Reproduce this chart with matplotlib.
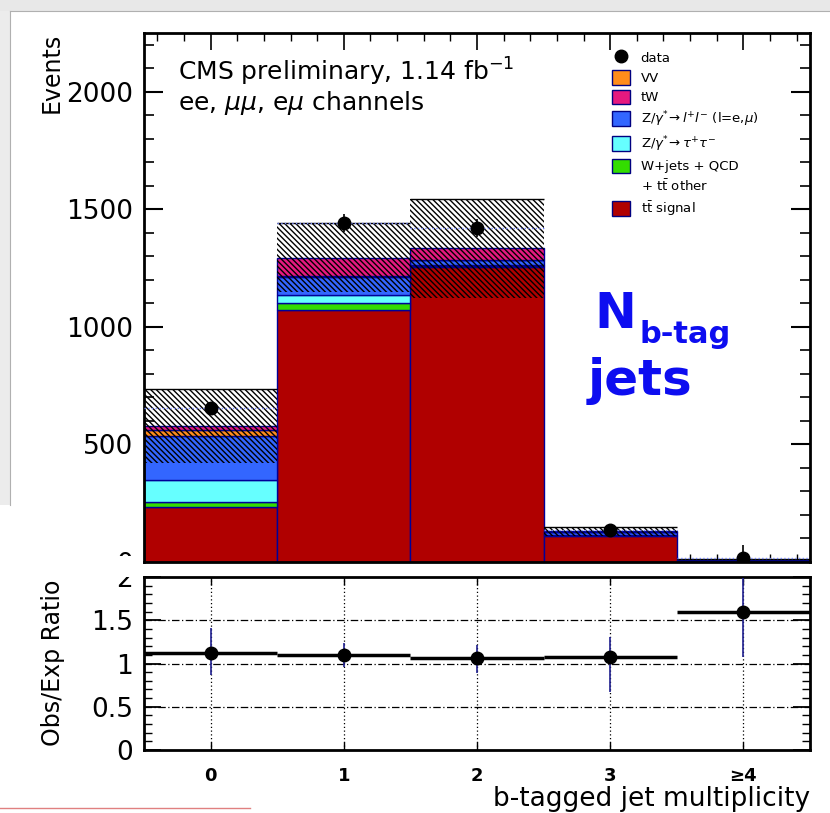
import numpy as np
import matplotlib
matplotlib.use('Agg')
import matplotlib.pyplot as plt
from matplotlib.patches import Patch, Rectangle
from matplotlib.lines import Line2D
from matplotlib.ticker import MultipleLocator, FixedLocator

plt.rcParams['font.family'] = ['DejaVu Sans']
plt.rcParams['hatch.linewidth'] = 1.0

# ---------------- data ----------------
categories = ['0', '1', '2', '3', '\u22654']
signal  = [234, 1072, 1255, 112, 5]
wjets   = [20, 30, 5, 2, 0.5]
ztautau = [94, 34, 3, 2, 0.3]
zll     = [187, 77, 20, 10, 2.5]
vv      = [26, 3, 2, 1, 0.3]
tw      = [17, 78, 50, 3, 0.8]
mc_unc  = [157, 147, 210, 20, 3]
data    = [655, 1443, 1421, 136, 15]
ratio        = [1.125, 1.10, 1.067, 1.075, 1.59]
ratio_err_lo = [0.26, 0.14, 0.18, 0.40, 0.51]
ratio_err_hi = [0.29, 0.14, 0.15, 0.23, 0.40]

# stacking order (bottom to top)
components = [
    ('sig',  signal,  '#b00000', r'$\mathrm{t\bar{t}}$ signal'),
    ('wj',   wjets,   '#33dd00', 'W+jets + QCD'),
    ('ztt',  ztautau, '#66ffff', r'Z/$\gamma^{*}\!\rightarrow\tau^{+}\tau^{-}$'),
    ('zll',  zll,     '#3366ff', r'Z/$\gamma^{*}\!\rightarrow l^{+}l^{-}$ (l=e,$\mu$)'),
    ('vv',   vv,      '#ff8c1a', 'VV'),
    ('tw',   tw,      '#e6197f', 'tW'),
]
legend_order = ['vv', 'tw', 'zll', 'ztt', 'wj', 'sig']

W, H = 830, 813
fig = plt.figure(figsize=(W / 100, H / 100), dpi=100, facecolor='white')

def fx(x):
    return x / W

def fy(y):
    return 1 - y / H

# background framing (screenshot look)
fig.patches.append(Rectangle((0, fy(11)), 1, 11 / H, transform=fig.transFigure,
                             facecolor='#e8e8e8', edgecolor='none', zorder=-5))
fig.patches.append(Rectangle((0, fy(505)), 10 / W, 494 / H, transform=fig.transFigure,
                             facecolor='#ececec', edgecolor='none', zorder=-5))
fig.lines.append(Line2D([fx(10), fx(10)], [fy(11), fy(505)], transform=fig.transFigure,
                        color='#b0b0b0', lw=0.8))
fig.lines.append(Line2D([fx(10), 1], [fy(11), fy(11)], transform=fig.transFigure,
                        color='#b0b0b0', lw=0.8))
fig.lines.append(Line2D([0, fx(250)], [fy(808), fy(808)], transform=fig.transFigure,
                        color='#e08080', lw=1.0))

x = np.arange(len(categories))

# ---------------- main panel ----------------
ax = fig.add_axes([fx(144), fy(562), (810 - 144) / W, (562 - 33) / H])
bottom = np.zeros(len(categories))
for key, vals, col, lab in components:
    ax.bar(x, vals, width=1.0, bottom=bottom, color=col, edgecolor='#000099',
           linewidth=1.0, zorder=2)
    bottom = bottom + np.array(vals)
total = bottom

unc = np.array(mc_unc)
ax.bar(x, 2 * unc, width=1.0, bottom=total - unc, fill=False, hatch='\\' * 6,
       edgecolor='black', linewidth=0, zorder=3)
ax.hlines(total + unc, x - 0.5, x + 0.5, color='black', lw=1.0, zorder=3)
ax.hlines(data, x - 0.5, x + 0.5, color='#7788ff', lw=1.0, linestyle=':', zorder=3)

ax.errorbar(x, data, yerr=np.sqrt(data), fmt='o', color='black', ms=9,
            elinewidth=1.2, capsize=0, zorder=5)

ax.set_xlim(-0.5, 4.5)
ax.set_ylim(0, 2250)
ax.yaxis.set_major_locator(FixedLocator([0, 500, 1000, 1500, 2000]))
ax.yaxis.set_minor_locator(MultipleLocator(100))
ax.xaxis.set_major_locator(FixedLocator(x))
ax.xaxis.set_minor_locator(MultipleLocator(0.2))
ax.tick_params(axis='both', which='both', direction='in', top=True, right=True)
ax.tick_params(axis='y', which='major', length=14, width=1.5, labelsize=19, pad=8)
ax.tick_params(axis='y', which='minor', length=7, width=1.2)
ax.tick_params(axis='x', which='major', length=12, width=1.2, labelbottom=False)
ax.tick_params(axis='x', which='minor', length=6, width=1.0)
for s in ax.spines.values():
    s.set_linewidth(2.0)

fig.text(fx(52), fy(33), 'Events', rotation=90, ha='center', va='top', fontsize=17)

ax.text(fx(178), fy(72), r'CMS preliminary, 1.14 fb$^{-1}$', transform=fig.transFigure,
        fontsize=18, va='center', ha='left')
ax.text(fx(178), fy(103), r'ee, $\mu\mu$, e$\mu$ channels', transform=fig.transFigure,
        fontsize=18, va='center', ha='left')

# legend
comp_by_key = {c[0]: c for c in components}
handles = [Line2D([], [], marker='o', color='black', linestyle='none', ms=9)]
labels = ['data']
for key in legend_order:
    _, vals, col, lab = comp_by_key[key]
    handles.append(Patch(facecolor=col, edgecolor='#000080', lw=1.0))
    labels.append(lab)
    if key == 'wj':
        handles.append(Patch(facecolor='none', edgecolor='none'))
        labels.append(r'+ $\mathrm{t\bar{t}}$ other')
leg = ax.legend(handles, labels, loc='upper left', bbox_to_anchor=(0.703, 0.968),
                frameon=False, fontsize=9.5, handlelength=1.35, handleheight=1.35,
                labelspacing=0.38, handletextpad=0.8, borderpad=0, borderaxespad=0)

# big blue label
blue = '#0d0df0'
fig.text(fx(594), fy(328), 'N', color=blue, fontsize=36, fontweight='bold',
         ha='left', va='baseline')
fig.text(fx(639), fy(343), 'b-tag', color=blue, fontsize=22, fontweight='bold',
         ha='left', va='baseline')
fig.text(fx(588), fy(395), 'jets', color=blue, fontsize=36, fontweight='bold',
         ha='left', va='baseline')

# cover the bottom "0" label partly, like the reference
fig.patches.append(Rectangle((fx(60), fy(577)), (143 - 60) / W, (577 - 556) / H,
                             transform=fig.transFigure, facecolor='white',
                             edgecolor='none', zorder=5))

# ---------------- ratio panel ----------------
rx = fig.add_axes([fx(144), fy(750), (810 - 144) / W, (750 - 577) / H])
rx.set_xlim(-0.5, 4.5)
rx.set_ylim(0, 2)
for yv in [0.5, 1.0, 1.5]:
    rx.axhline(yv, color='black', lw=0.9, linestyle=(0, (6, 2, 1, 2)), zorder=1)
for xv in x:
    rx.axvline(xv, color='black', lw=0.9, linestyle=(0, (1, 2)), zorder=1)

rx.errorbar(x, ratio, yerr=[ratio_err_lo, ratio_err_hi], fmt='none',
            ecolor='#202090', elinewidth=1.2, capsize=0, zorder=3)
rx.errorbar(x, ratio, xerr=0.5, fmt='o', color='black', ms=9,
            elinewidth=2.5, capsize=0, zorder=4)

rx.xaxis.set_major_locator(FixedLocator(x))
rx.set_xticklabels(categories)
rx.yaxis.set_major_locator(FixedLocator([0, 0.5, 1, 1.5, 2]))
rx.set_yticklabels(['0', '0.5', '1', '1.5', '2'])
rx.yaxis.set_minor_locator(MultipleLocator(0.1))
rx.tick_params(axis='both', which='both', direction='in', top=True, right=True)
rx.tick_params(axis='y', which='major', length=12, width=1.3, labelsize=19, pad=8)
rx.tick_params(axis='y', which='minor', length=6, width=1.0)
rx.tick_params(axis='x', which='major', length=6, width=1.0, labelsize=13, pad=12)
for lab in rx.get_xticklabels():
    lab.set_fontweight('bold')
for s in rx.spines.values():
    s.set_linewidth(2.0)

fig.text(fx(53), fy(663), 'Obs/Exp Ratio', rotation=90, ha='center', va='center',
         fontsize=17)
fig.text(fx(810), fy(806), 'b-tagged jet multiplicity', ha='right', va='baseline',
         fontsize=19)

fig.savefig('out.png', dpi=100, facecolor='white')
